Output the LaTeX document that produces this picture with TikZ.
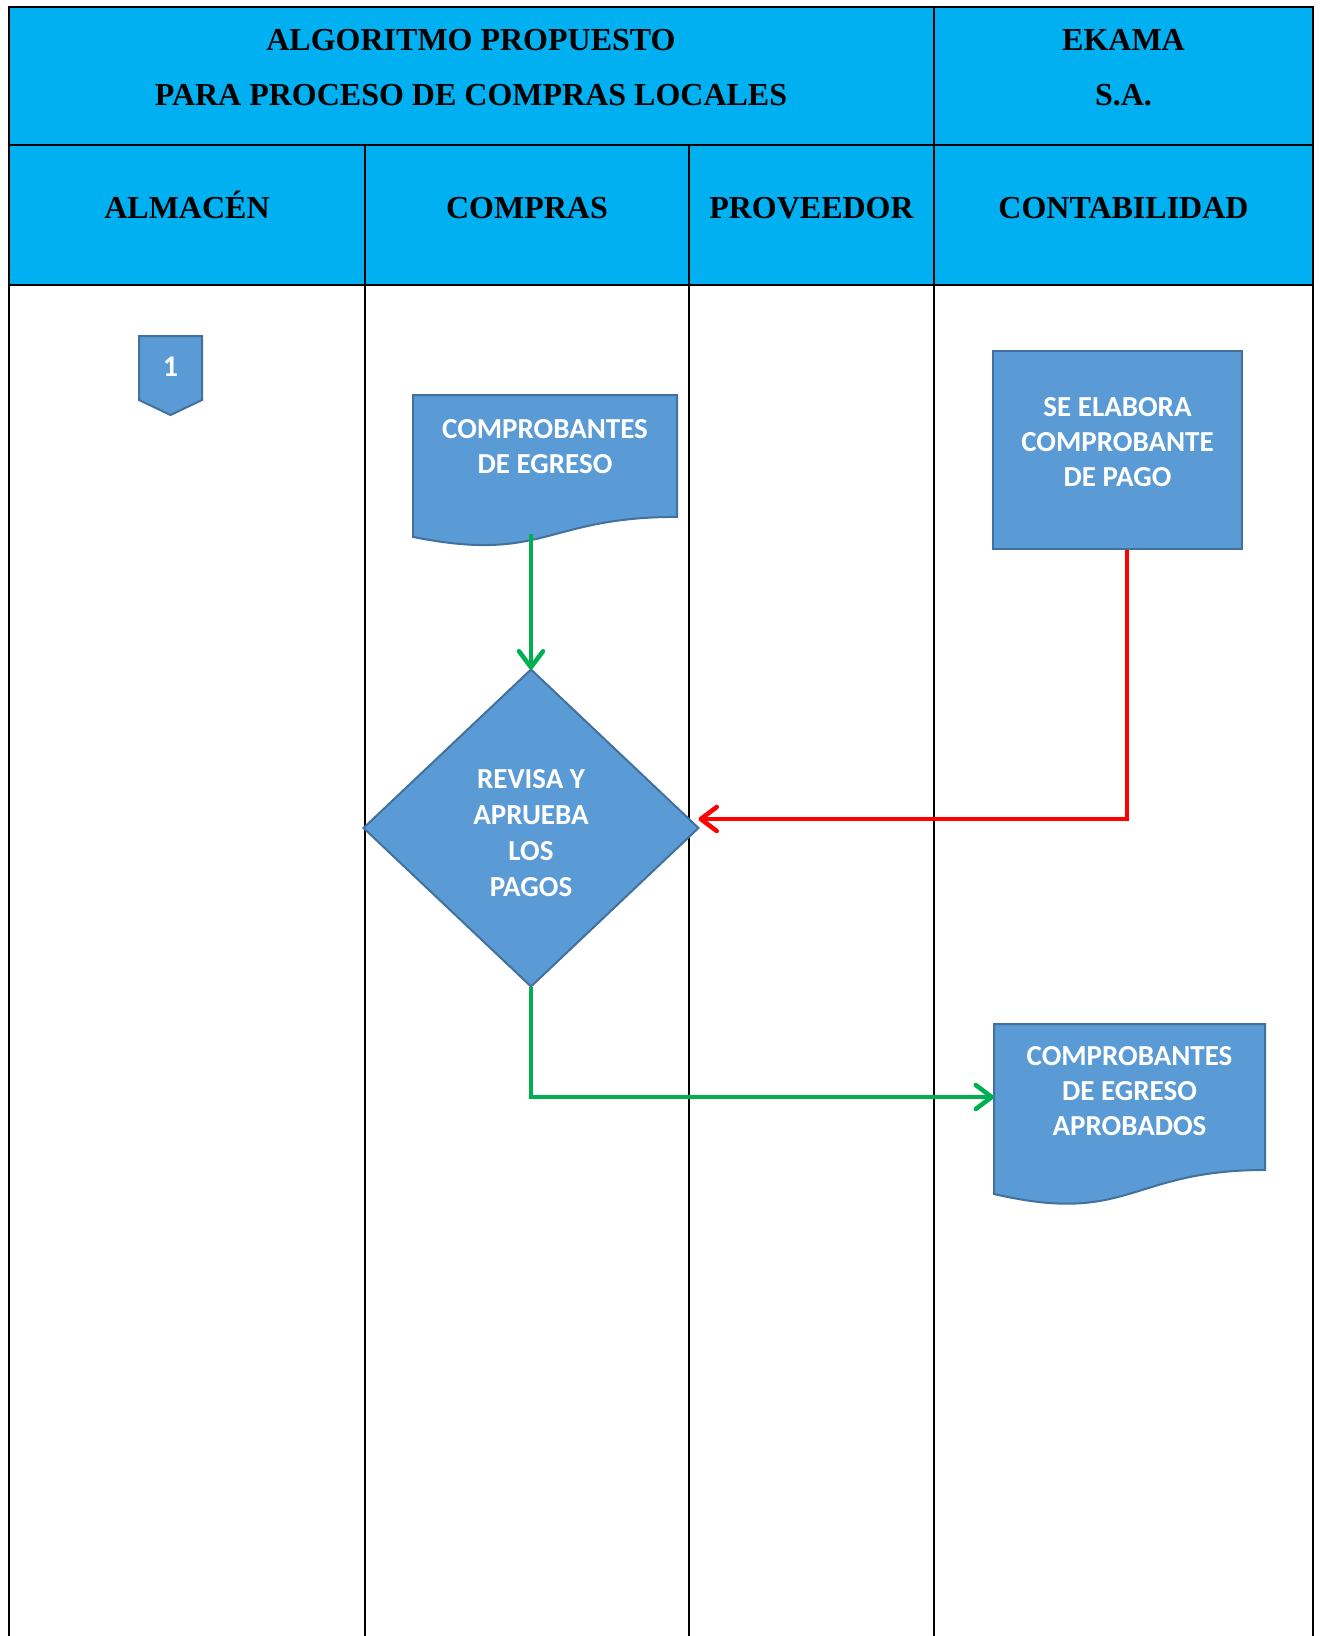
\documentclass[tikz,border=0pt]{standalone}
\usepackage{fontspec}
\setmainfont{Liberation Serif}
\newfontfamily\boxfont{Carlito}
\usetikzlibrary{arrows.meta,shapes.geometric}

\definecolor{headcyan}{HTML}{00B0F0}
\definecolor{shapeblue}{HTML}{5B9BD5}
\definecolor{shapeedge}{HTML}{41719C}
\definecolor{flowgreen}{HTML}{00B050}
\definecolor{flowred}{HTML}{FF0000}

% document symbol: left, top, width, height
\newcommand\docsymbol[4]{%
  \path[shapestyle] (#1,#2) -- ({#1+#3},#2) -- ({#1+#3},{#2+0.802*#4})
    .. controls ({#1+0.5*#3},{#2+0.802*#4}) and ({#1+0.5*#3},{#2+1.1075*#4})
    .. (#1,{#2+0.934*#4}) -- cycle;}

\begin{document}
\begin{tikzpicture}[x=1pt,y=-1pt,
  grid/.style={line width=2.2pt, black},
  headtext/.style={font=\fontsize{32}{55}\selectfont\bfseries, align=center, inner sep=0},
  lanetext/.style={font=\fontsize{32}{38}\selectfont\bfseries, anchor=base, inner sep=0},
  shapestyle/.style={fill=shapeblue, draw=shapeedge, line width=2pt},
  boxtext/.style={font=\boxfont\bfseries\fontsize{29}{35}\selectfont, text=white, align=center, inner sep=0},
  flow/.style={line width=4.5pt, -{Straight Barb[length=16pt,width=24pt,round]}},
]
\useasboundingbox (0,0) rectangle (1320,1636);

% header band and swimlane grid
\fill[headcyan] (9,7) rectangle (1313,285);
\draw[grid] (9,1636) -- (9,7) -- (1313,7) -- (1313,1636);
\draw[grid] (9,145) -- (1313,145);
\draw[grid] (9,285) -- (1313,285);
\draw[grid] (934,7) -- (934,1636);
\draw[grid] (365,145) -- (365,1636);
\draw[grid] (689,145) -- (689,1636);

\node[headtext] (title) at (471,67.5) {ALGORITMO PROPUESTO\\PARA PROCESO DE COMPRAS LOCALES};
\node[headtext] (company) at (1123.5,67.5) {EKAMA\\S.A.};

\node[lanetext] (almacen) at (187,218) {ALMACÉN};
\node[lanetext] (compras) at (527,218) {COMPRAS};
\node[lanetext] (proveedor) at (811.5,218) {PROVEEDOR};
\node[lanetext] (contabilidad) at (1123.5,218) {CONTABILIDAD};

% off-page connector
\path[shapestyle] (139,336) -- (202,336) -- (202,400) -- (170.5,415) -- (139,400) -- cycle;
\node[boxtext, font=\boxfont\bfseries\fontsize{30}{32}\selectfont] (conn1) at (170.5,367) {1};

% documents
\docsymbol{413}{395}{264}{152}
\node[boxtext] (egreso) at (545,446.5) {COMPROBANTES\\DE EGRESO};
\docsymbol{994}{1024}{271}{182}
\node[boxtext] (aprobados) at (1129.5,1091) {COMPROBANTES\\DE EGRESO\\APROBADOS};

% process and decision
\node[shapestyle, boxtext, minimum width=249, minimum height=198, text depth=16pt]
  (elabora) at (1117.5,450) {SE ELABORA\\COMPROBANTE\\DE PAGO};
\node[diamond, shapestyle, boxtext, font=\boxfont\bfseries\fontsize{29}{36}\selectfont,
  minimum width=335, minimum height=317, outer sep=0]
  (revisa) at (531,828) {\rule{0pt}{30pt}REVISA Y\\APRUEBA\\LOS\\PAGOS};

% connectors
\coordinate (egresoout) at (531,534);
\coordinate (aprobin) at (994,1097);
\draw[flow, flowgreen] (egresoout) -- (revisa.north);
\draw[flow, flowred] ([xshift=9.5pt]elabora.south) |- ([yshift=9pt]revisa.east);
\draw[flow, flowgreen] (revisa.south) |- (aprobin);
\end{tikzpicture}
\end{document}
